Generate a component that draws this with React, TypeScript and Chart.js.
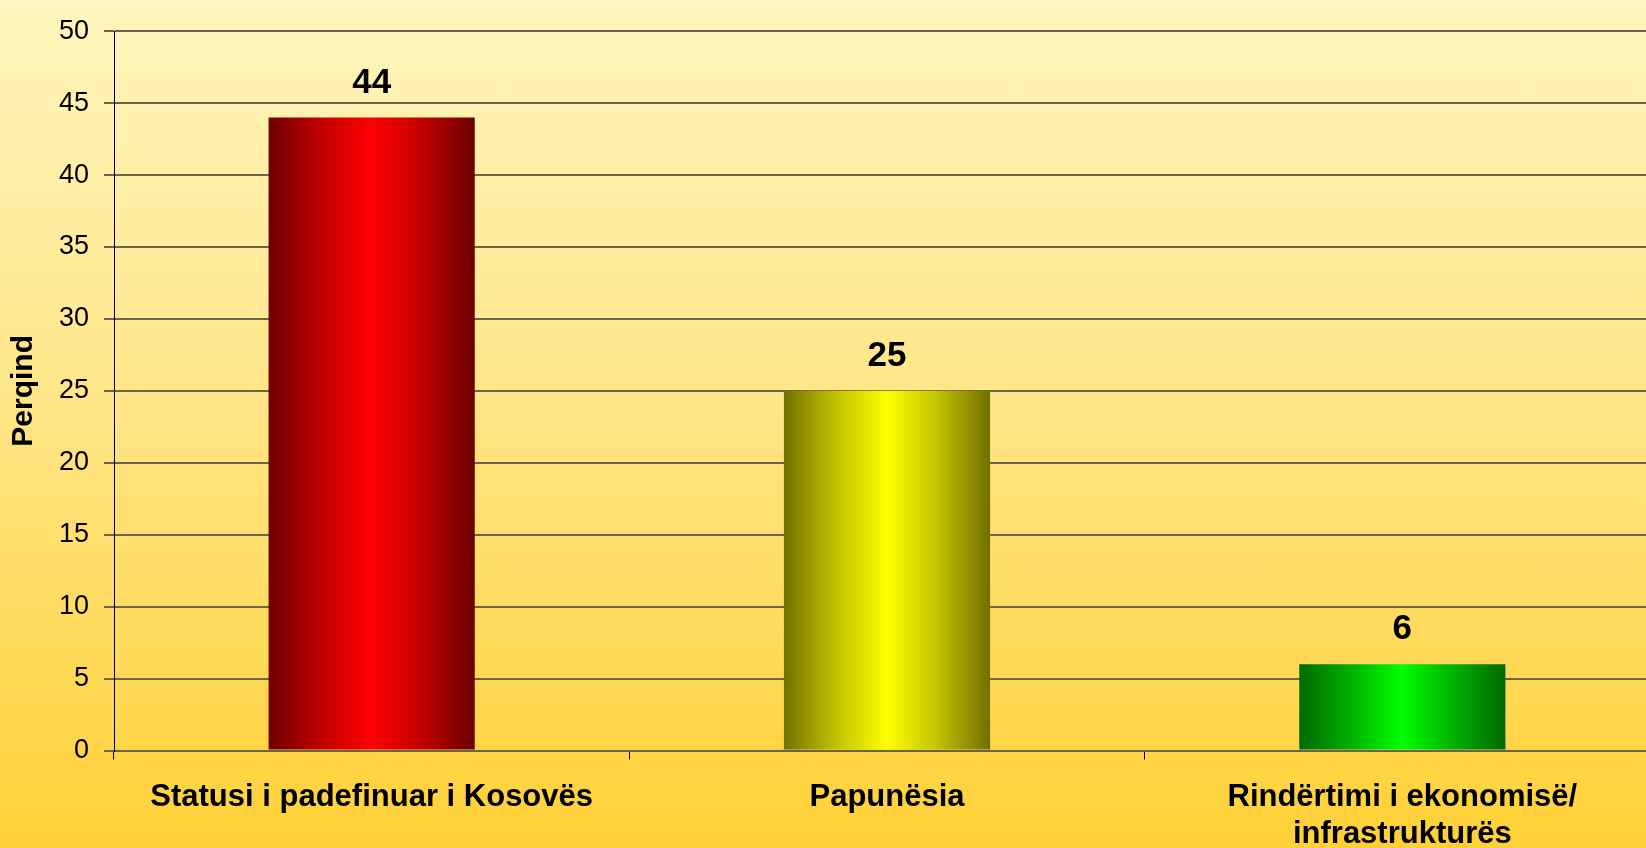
import React, { useEffect, useRef } from "react";
import { Chart, registerables } from "chart.js";

Chart.register(...registerables);

const categories: (string | string[])[] = [
  "Statusi i padefinuar i Kosovës",
  "Papunësia",
  ["Rindërtimi i ekonomisë/", "infrastrukturës"],
];
const values: number[] = [44, 25, 6];
const yTicks: number[] = [0, 5, 10, 15, 20, 25, 30, 35, 40, 45, 50];
const yTitle = "Perqind";

const barGradients: string[][] = [
  ["#6e0000", "#c00000", "#ff0000", "#c00000", "#6a0000"],
  ["#727200", "#c0c000", "#ffff00", "#c0c000", "#707000"],
  ["#006a00", "#00b000", "#00ff00", "#00b000", "#006800"],
];

const FONT = "'Liberation Sans', Arial, Helvetica, sans-serif";

const valueLabels = {
  id: "valueLabels",
  afterDatasetsDraw(chart: any) {
    const ctx = chart.ctx;
    const meta = chart.getDatasetMeta(0);
    ctx.save();
    ctx.font = `bold 35px ${FONT}`;
    ctx.fillStyle = "#000";
    ctx.textAlign = "center";
    ctx.textBaseline = "alphabetic";
    meta.data.forEach((bar: any, i: number) => {
      ctx.fillText(String(values[i]), bar.x, bar.y - 25);
    });
    ctx.restore();
  },
};

export default function App() {
  const ref = useRef<HTMLCanvasElement>(null);
  useEffect(() => {
    if (!ref.current) return;
    const chart = new Chart(ref.current, {
      type: "bar",
      data: {
        labels: categories as any,
        datasets: [
          {
            data: values,
            categoryPercentage: 1,
            barPercentage: 0.4,
            borderWidth: 0,
            backgroundColor: (c: any) => {
              const ch = c.chart;
              const xs = ch.scales?.x;
              if (!ch.chartArea || !xs) return barGradients[c.dataIndex % 3][2];
              const center = xs.getPixelForValue(c.dataIndex);
              const half = (xs.width / categories.length) * 0.4 / 2;
              const g = ch.ctx.createLinearGradient(center - half, 0, center + half, 0);
              const stops = barGradients[c.dataIndex % 3];
              stops.forEach((col, k) => g.addColorStop(k / (stops.length - 1), col));
              return g;
            },
          },
        ],
      },
      options: {
        responsive: false,
        animation: false,
        devicePixelRatio: 1,
        layout: { padding: { top: 26, left: 0, right: 40, bottom: 0 } },
        plugins: { legend: { display: false }, tooltip: { enabled: false } },
        scales: {
          x: {
            offset: true,
            border: { display: false },
            grid: {
              offset: true,
              drawOnChartArea: false,
              drawTicks: true,
              tickLength: 9,
              color: "#000",
              lineWidth: 1,
            },
            ticks: {
              color: "#000",
              font: { family: FONT, size: 31, weight: "bold", lineHeight: 1.2 },
              padding: 19,
              maxRotation: 0,
              minRotation: 0,
              autoSkip: false,
            },
            afterFit: (s: any) => {
              s.height = 97.5;
            },
          },
          y: {
            min: 0,
            max: 50,
            border: { display: true, color: "#000", width: 1 },
            grid: {
              color: "#6b6446",
              lineWidth: 2,
              tickLength: 10,
            },
            ticks: {
              stepSize: 5,
              color: "#000",
              font: { family: FONT, size: 27 },
              padding: 15,
              callback: (v: any) => (yTicks.includes(Number(v)) ? String(v) : ""),
            },
            title: {
              display: true,
              text: yTitle,
              color: "#000",
              font: { family: FONT, size: 30, weight: "bold" },
              padding: { top: 6, bottom: 0 },
            },
            afterFit: (s: any) => {
              s.width = 114;
            },
          },
        },
      },
      plugins: [valueLabels],
    });
    return () => chart.destroy();
  }, []);

  return (
    <div
      style={{
        position: "fixed",
        left: 0,
        top: 0,
        width: 1646,
        height: 848,
        overflow: "hidden",
        background: "linear-gradient(to bottom, #fff6be 0%, #ffe68a 45%, #ffd136 100%)",
      }}
    >
      <canvas ref={ref} width={1700} height={848} style={{ display: "block" }} />
    </div>
  );
}
